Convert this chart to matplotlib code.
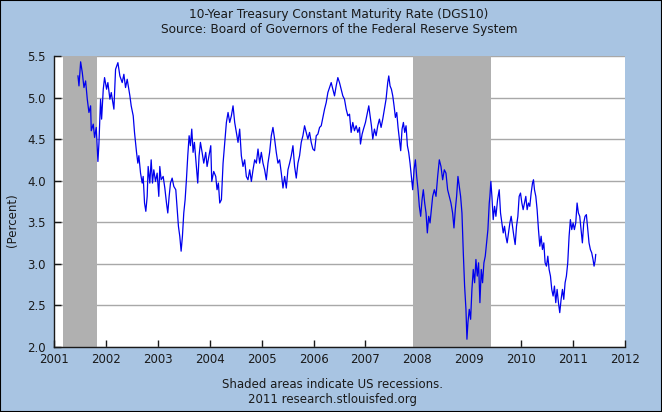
import matplotlib
matplotlib.use("Agg")
import matplotlib.pyplot as plt
from matplotlib.patches import Rectangle

# ---- data (decimal years, percent) ----
dates = [
    2001.462, 2001.481, 2001.513, 2001.545, 2001.577, 2001.609, 2001.641, 2001.673, 2001.705, 2001.718,
    2001.756, 2001.782, 2001.814, 2001.846, 2001.865, 2001.897, 2001.917, 2001.949, 2001.974, 2002.013,
    2002.038, 2002.077, 2002.103, 2002.154, 2002.186, 2002.231, 2002.269, 2002.314, 2002.346, 2002.378,
    2002.410, 2002.462, 2002.487, 2002.526, 2002.551, 2002.590, 2002.615, 2002.635, 2002.667, 2002.699,
    2002.718, 2002.744, 2002.769, 2002.795, 2002.814, 2002.846, 2002.872, 2002.897, 2002.923, 2002.955,
    2002.987, 2003.019, 2003.038, 2003.064, 2003.103, 2003.135, 2003.167, 2003.192, 2003.218, 2003.244,
    2003.276, 2003.308, 2003.346, 2003.372, 2003.397, 2003.423, 2003.449, 2003.474, 2003.500, 2003.526,
    2003.551, 2003.577, 2003.603, 2003.628, 2003.654, 2003.679, 2003.705, 2003.744, 2003.769, 2003.795,
    2003.821, 2003.853, 2003.885,
    2003.923, 2003.949, 2003.987, 2004.020, 2004.039, 2004.077, 2004.116, 2004.141, 2004.167, 2004.193,
    2004.225, 2004.257, 2004.289, 2004.321, 2004.353, 2004.385, 2004.417, 2004.449, 2004.481, 2004.513,
    2004.545, 2004.577, 2004.609, 2004.641, 2004.673, 2004.705, 2004.737, 2004.770, 2004.802, 2004.834,
    2004.866, 2004.898, 2004.930, 2004.962, 2004.994, 2005.026, 2005.058, 2005.090, 2005.122, 2005.154,
    2005.186, 2005.218, 2005.250, 2005.282, 2005.314, 2005.346, 2005.379, 2005.411, 2005.443, 2005.475,
    2005.507, 2005.539, 2005.571, 2005.603, 2005.635, 2005.667, 2005.699, 2005.731, 2005.763, 2005.795,
    2005.827, 2005.859, 2005.891, 2005.923, 2005.955, 2005.987, 2006.020, 2006.052, 2006.084, 2006.116,
    2006.148, 2006.180, 2006.212, 2006.244, 2006.276, 2006.308, 2006.340, 2006.372, 2006.404, 2006.436,
    2006.468, 2006.500, 2006.532, 2006.564, 2006.596, 2006.629, 2006.661, 2006.693,
    2006.724, 2006.756, 2006.788, 2006.821, 2006.853, 2006.885, 2006.904, 2006.936, 2006.962, 2007.000,
    2007.026, 2007.064, 2007.090, 2007.115, 2007.141, 2007.173, 2007.205, 2007.237, 2007.269, 2007.301,
    2007.333, 2007.365, 2007.397, 2007.429, 2007.449, 2007.474, 2007.500, 2007.526, 2007.551, 2007.577,
    2007.603, 2007.628, 2007.654, 2007.679, 2007.705, 2007.731, 2007.756, 2007.782, 2007.808, 2007.833,
    2007.859, 2007.885, 2007.910, 2007.936, 2007.962, 2007.987, 2008.013, 2008.038, 2008.064, 2008.090,
    2008.115, 2008.141, 2008.167, 2008.192, 2008.218, 2008.244, 2008.269, 2008.295, 2008.327, 2008.359,
    2008.391, 2008.423, 2008.455, 2008.487, 2008.519, 2008.551, 2008.583, 2008.615, 2008.647, 2008.679,
    2008.705, 2008.731, 2008.756, 2008.782, 2008.808, 2008.833, 2008.859, 2008.885, 2008.910, 2008.936,
    2008.955, 2008.974, 2009.000, 2009.026, 2009.051, 2009.077, 2009.103, 2009.128, 2009.154, 2009.179,
    2009.205, 2009.231, 2009.256, 2009.282, 2009.308, 2009.333, 2009.359, 2009.385,
    2009.397, 2009.416, 2009.436, 2009.461, 2009.487, 2009.513, 2009.545, 2009.577, 2009.602, 2009.628,
    2009.654, 2009.679, 2009.705, 2009.730, 2009.756, 2009.782, 2009.807, 2009.833, 2009.859, 2009.884,
    2009.910, 2009.936, 2009.961, 2009.987, 2010.013, 2010.038, 2010.064, 2010.089, 2010.115, 2010.141,
    2010.166, 2010.192, 2010.218, 2010.237, 2010.256, 2010.282, 2010.307, 2010.333, 2010.359, 2010.384,
    2010.410, 2010.436, 2010.461, 2010.487, 2010.513, 2010.538, 2010.564, 2010.589, 2010.615, 2010.641,
    2010.666, 2010.692, 2010.718, 2010.743, 2010.769, 2010.795, 2010.820, 2010.846, 2010.871, 2010.897,
    2010.923, 2010.948, 2010.974, 2011.000, 2011.025, 2011.051, 2011.077, 2011.102, 2011.128, 2011.154,
    2011.179, 2011.205, 2011.230, 2011.256, 2011.282, 2011.307, 2011.333, 2011.359, 2011.384, 2011.404,
    2011.423, 2011.436,
]
rates = [
    5.26, 5.14, 5.43, 5.30, 5.12, 5.20, 4.98, 4.82, 4.90, 4.60,
    4.68, 4.52, 4.64, 4.23, 4.44, 4.98, 4.74, 5.10, 5.24, 5.10,
    5.18, 4.98, 5.06, 4.86, 5.34, 5.42, 5.26, 5.18, 5.28, 5.12,
    5.22, 5.02, 4.90, 4.78, 4.58, 4.34, 4.21, 4.30, 4.09, 3.97,
    4.05, 3.73, 3.63, 3.81, 4.17, 3.97, 4.25, 3.97, 4.13, 3.99,
    4.09, 3.81, 4.17, 4.01, 4.05, 3.91, 3.73, 3.61, 3.81, 3.97,
    4.03, 3.93, 3.89, 3.67, 3.45, 3.33, 3.15, 3.33, 3.61, 3.77,
    4.01, 4.30, 4.54, 4.42, 4.62, 4.34, 4.46, 4.17, 3.97, 4.30,
    4.46, 4.34, 4.21,
    4.34, 4.17, 4.30, 4.42, 3.99, 4.11, 4.05, 3.89, 3.97, 3.73,
    3.77, 4.21, 4.46, 4.70, 4.82, 4.70, 4.78, 4.90, 4.70, 4.58,
    4.46, 4.62, 4.30, 4.17, 4.25, 4.05, 4.01, 4.13, 3.99, 4.13,
    4.25, 4.21, 4.38, 4.21, 4.34, 4.21, 4.13, 4.01, 4.21, 4.34,
    4.54, 4.64, 4.50, 4.34, 4.21, 4.25, 4.09, 3.91, 4.05, 3.91,
    4.13, 4.21, 4.30, 4.42, 4.17, 4.03, 4.21, 4.30, 4.46, 4.54,
    4.66, 4.58, 4.50, 4.58, 4.46, 4.38, 4.36, 4.54, 4.56, 4.64,
    4.66, 4.76, 4.86, 4.94, 5.06, 5.12, 5.18, 5.10, 5.02, 5.14,
    5.24, 5.18, 5.10, 5.02, 4.98, 4.86, 4.78, 4.80,
    4.58, 4.70, 4.60, 4.66, 4.58, 4.64, 4.44, 4.56, 4.62, 4.70,
    4.78, 4.90, 4.78, 4.66, 4.50, 4.62, 4.54, 4.66, 4.74, 4.64,
    4.74, 4.86, 4.98, 5.18, 5.26, 5.14, 5.10, 5.02, 4.90, 4.76,
    4.82, 4.64, 4.50, 4.36, 4.62, 4.70, 4.58, 4.66, 4.42, 4.34,
    4.21, 4.05, 3.89, 4.13, 4.25, 4.05, 3.89, 3.69, 3.57, 3.77,
    3.89, 3.73, 3.61, 3.37, 3.57, 3.49, 3.65, 3.81, 3.89, 3.81,
    4.05, 4.25, 4.17, 4.01, 4.13, 4.09, 3.89, 3.81, 3.73, 3.61,
    3.43, 3.65, 3.81, 4.05, 3.93, 3.81, 3.61, 3.13, 2.73, 2.45,
    2.09, 2.29, 2.45, 2.33, 2.69, 2.93, 2.77, 3.05, 2.85, 3.01,
    2.53, 2.93, 2.77, 3.01, 3.09, 3.25, 3.41, 3.73,
    3.81, 3.99, 3.81, 3.53, 3.69, 3.57, 3.77, 3.89, 3.61, 3.49,
    3.37, 3.45, 3.33, 3.25, 3.37, 3.49, 3.57, 3.45, 3.33, 3.23,
    3.45, 3.57, 3.81, 3.85, 3.73, 3.65, 3.73, 3.81, 3.65, 3.73,
    3.69, 3.85, 3.97, 4.01, 3.89, 3.81, 3.65, 3.41, 3.21, 3.33,
    3.17, 3.25, 3.01, 2.97, 3.09, 2.93, 2.85, 2.69, 2.61, 2.73,
    2.53, 2.69, 2.53, 2.41, 2.57, 2.69, 2.57, 2.77, 2.85, 3.01,
    3.33, 3.53, 3.41, 3.49, 3.41, 3.49, 3.73, 3.61, 3.57, 3.41,
    3.25, 3.49, 3.57, 3.59, 3.41, 3.25, 3.17, 3.13, 3.05, 2.97,
    3.03, 3.11,
]
recession_starts = [2001.167, 2007.917]
recession_ends = [2001.833, 2009.417]
x_ticks = list(range(2001, 2013))
y_ticks = [2.0, 2.5, 3.0, 3.5, 4.0, 4.5, 5.0, 5.5]

title_text = "10-Year Treasury Constant Maturity Rate (DGS10)\nSource: Board of Governors of the Federal Reserve System"
ylabel_text = "(Percent)"
footer_text = "Shaded areas indicate US recessions.\n2011 research.stlouisfed.org"

BG = "#a8c4e2"
TXT = "#1a1a1a"

plt.rcParams["font.family"] = ["DejaVu Sans"]

fig = plt.figure(figsize=(6.62, 4.12), dpi=100, facecolor=BG)
ax = fig.add_axes([54 / 662, 65.3 / 412, (625 - 54) / 662, (346.7 - 56) / 412])
ax.set_facecolor("white")

for s, e in zip(recession_starts, recession_ends):
    ax.axvspan(s, e, color="#b0b0b0", lw=0, zorder=1)

ax.plot(dates, rates, color="#0000ee", lw=0.9, zorder=3)

ax.set_xlim(2001, 2012)
ax.set_ylim(2.0, 5.5)
ax.set_xticks(x_ticks)
ax.set_xticklabels([str(t) for t in x_ticks])
ax.set_yticks(y_ticks)
ax.set_yticklabels([f"{v:.1f}" for v in y_ticks])
ax.yaxis.grid(True, color="#a8a8a8", lw=1.0, zorder=0)
ax.set_axisbelow(True)
ax.tick_params(axis="x", direction="in", length=5, width=1, color=TXT,
               labelsize=8.5, labelcolor=TXT, pad=4.5)
ax.tick_params(axis="y", direction="in", length=5, width=1, color=TXT,
               labelsize=8.5, labelcolor=TXT, pad=6)

for side in ["top", "right"]:
    ax.spines[side].set_visible(False)
for side in ["left", "bottom"]:
    ax.spines[side].set_color(TXT)
    ax.spines[side].set_linewidth(1.0)

fig.text(12 / 662, 1 - 220 / 412, ylabel_text, rotation=90, ha="center", va="center",
         fontsize=8.5, color=TXT)

fig.text(339 / 662, 1 - 22 / 412, title_text, ha="center", va="center",
         fontsize=8.7, color=TXT, linespacing=1.25)
fig.text(333 / 662, 1 - 392 / 412, footer_text, ha="center", va="center",
         fontsize=8.5, color=TXT, linespacing=1.25)

fig.patches.append(Rectangle((0, 0), 1, 1, transform=fig.transFigure, fill=False,
                             edgecolor="black", lw=1.5))

fig.savefig("out.png", dpi=100, facecolor=BG)
